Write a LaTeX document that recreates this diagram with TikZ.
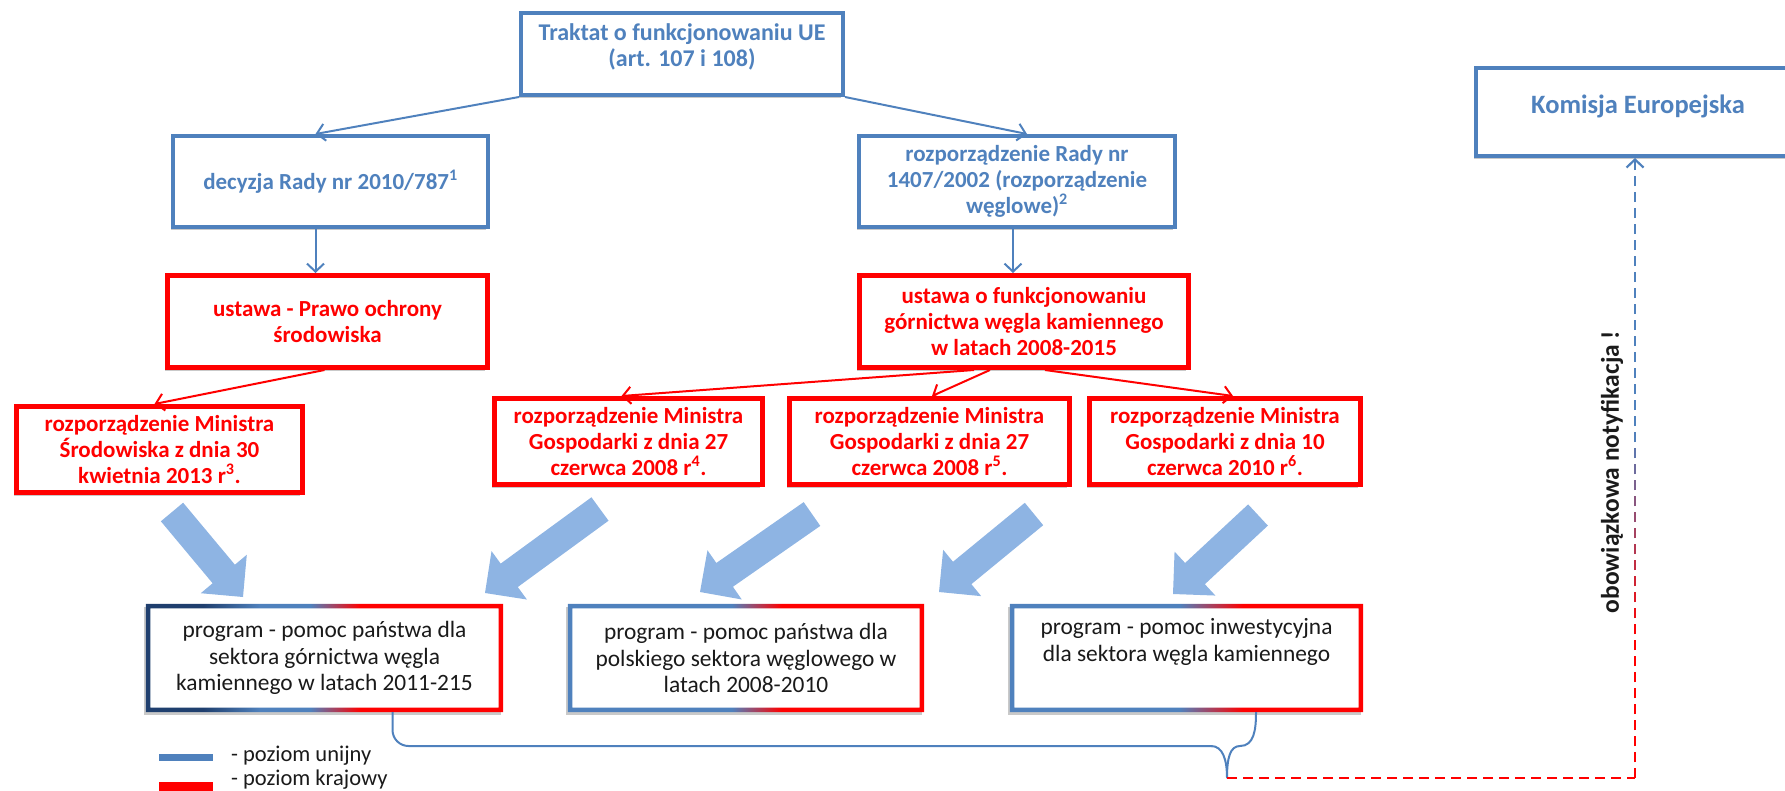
\documentclass[tikz,border=0pt]{standalone}
\usepackage{fontspec}
\setmainfont{Carlito}
\usetikzlibrary{arrows.meta,shadows,calc}

\definecolor{ublue}{HTML}{4F81BD}
\definecolor{nred}{HTML}{FF0000}
\definecolor{navyb}{HTML}{1F3F6E}
\definecolor{fatblue}{HTML}{8EB4E3}
\definecolor{txt}{HTML}{1A1A1A}

\pgfdeclarehorizontalshading{progA}{100bp}{color(0bp)=(navyb); color(25bp)=(navyb); color(33bp)=(navyb); color(41bp)=(ublue); color(48bp)=(ublue); color(55bp)=(nred); color(100bp)=(nred)}
\pgfdeclarehorizontalshading{progB}{100bp}{color(0bp)=(ublue); color(48bp)=(ublue); color(55bp)=(nred); color(100bp)=(nred)}
\pgfdeclarehorizontalshading{progC}{100bp}{color(0bp)=(ublue); color(49bp)=(ublue); color(58bp)=(nred); color(100bp)=(nred)}

\newcommand\fatarr[2]{%
  \coordinate (fab) at ($(#2)!30pt!(#1)$);
  \fill[fatblue] ($(#1)!14.5pt!90:(#2)$) -- ($(fab)!14.5pt!-90:(#1)$) -- ($(fab)!30pt!-90:(#1)$) -- (#2)
     -- ($(fab)!30pt!90:(#1)$) -- ($(fab)!14.5pt!90:(#1)$) -- ($(#1)!14.5pt!-90:(#2)$) -- cycle;}

\tikzset{
  boxbase/.style={rectangle, inner sep=0pt, align=center, fill=white,
    drop shadow={shadow xshift=-2.5pt, shadow yshift=-3pt, opacity=0.3, fill=black!70}},
  bfont/.style={font=\bfseries\fontsize{23}{26}\selectfont},
  rfont/.style={font=\fontsize{23.4}{26.5}\selectfont},
  bluebox/.style={boxbase, draw=ublue, line width=4pt, text=ublue, bfont},
  redbox/.style={boxbase, draw=nred, line width=5pt, text=nred, bfont},
  progbox/.style={boxbase, text=txt, rfont},
  bluetext/.style={inner sep=0pt, align=center, text=ublue, bfont},
  progtext/.style={inner sep=0pt, align=center, text=txt, rfont},
  bconn/.style={draw=ublue, line width=2pt, -{Straight Barb[length=8pt,width=17pt]}},
  rconn/.style={draw=nred, line width=2pt, -{Straight Barb[length=8pt,width=17pt]}},
  braceline/.style={draw=ublue, line width=2pt},
  notif/.style={line width=2.2pt, dash pattern=on 10pt off 6pt},
}

\begin{document}
\begin{tikzpicture}[x=1pt,y=-1pt]
\useasboundingbox (0,0) rectangle (1785,790);

% fat arrows (drawn below the boxes)
\coordinate (fa1s) at (172,512);  \coordinate (fa1e) at (243,597);
\coordinate (fa2s) at (600,509);  \coordinate (fa2e) at (485,593);
\coordinate (fa3s) at (812,514);  \coordinate (fa3e) at (700,592);
\coordinate (fa4s) at (1034,514); \coordinate (fa4e) at (939,592);
\coordinate (fa5s) at (1258,515); \coordinate (fa5e) at (1173,594);
\fatarr{fa1s}{fa1e}
\fatarr{fa2s}{fa2e}
\fatarr{fa3s}{fa3e}
\fatarr{fa4s}{fa4e}
\fatarr{fa5s}{fa5e}

% EU level
\node[bluebox, minimum width=322, minimum height=82] (trak) at (682,54) {};
\node[bluetext, font=\bfseries\fontsize{24}{26}\selectfont] (trakT) at (682,47) {Traktat o funkcjonowaniu UE\\(art. 107 i 108)};
\node[bluebox, minimum width=318, minimum height=88] (kom) at (1635,112) {};
\node[bluetext, font=\bfseries\fontsize{26.5}{28}\selectfont] (komT) at (1638,106) {Komisja Europejska};
\node[bluebox, minimum width=315, minimum height=91] (dec) at (330.5,181.5) {decyzja Rady nr 2010/787\textsuperscript{1}};
\node[bluebox, minimum width=316, minimum height=91] (rr) at (1017,181.5) {rozporządzenie Rady nr\\1407/2002 (rozporządzenie\\węglowe)\textsuperscript{2}};

% national level
\node[redbox, minimum width=320, minimum height=92] (pos) at (327.5,321.5) {ustawa - Prawo ochrony\\środowiska};
\node[redbox, minimum width=329, minimum height=92] (uf) at (1024,321.5) {ustawa o funkcjonowaniu\\górnictwa węgla kamiennego\\w latach 2008-2015};
\node[redbox, minimum width=286, minimum height=86] (sr) at (159.5,449.5) {rozporządzenie Ministra\\Środowiska z dnia 30\\kwietnia 2013 r\textsuperscript{3}.};
\node[redbox, minimum width=268, minimum height=86] (g1) at (628.5,441.5) {rozporządzenie Ministra\\Gospodarki z dnia 27\\czerwca 2008 r\textsuperscript{4}.};
\node[redbox, minimum width=280, minimum height=86] (g2) at (929.5,441.5) {rozporządzenie Ministra\\Gospodarki z dnia 27\\czerwca 2008 r\textsuperscript{5}.};
\node[redbox, minimum width=271, minimum height=86] (g3) at (1225,441.5) {rozporządzenie Ministra\\Gospodarki z dnia 10\\czerwca 2010 r\textsuperscript{6}.};

% programmes
\node[progbox, minimum width=357, minimum height=108] (p1) at (324.5,658) {program - pomoc państwa dla\\sektora górnictwa węgla\\kamiennego w latach 2011-215};
\node[progbox, minimum width=356, minimum height=108] (p2) at (746,658) {program - pomoc państwa dla\\polskiego sektora węglowego w\\latach 2008-2010};
\node[progbox, minimum width=353, minimum height=108] (p3) at (1186.5,658) {};
\node[progtext] (p3T) at (1186.5,642) {program - pomoc inwestycyjna\\dla sektora węgla kamiennego};
\shade[shading=progA, even odd rule] (p1.north west) rectangle (p1.south east)
  ($(p1.north west)+(4.5,4.5)$) rectangle ($(p1.south east)+(-4.5,-4.5)$);
\shade[shading=progB, even odd rule] (p2.north west) rectangle (p2.south east)
  ($(p2.north west)+(4.5,4.5)$) rectangle ($(p2.south east)+(-4.5,-4.5)$);
\shade[shading=progC, even odd rule] (p3.north west) rectangle (p3.south east)
  ($(p3.north west)+(4.5,4.5)$) rectangle ($(p3.south east)+(-4.5,-4.5)$);

% thin connectors
\draw[bconn] (trak.south west) -- ($(dec.north)+(-15,0)$);
\draw[bconn] (trak.south east) -- ($(rr.north)+(10,0)$);
\draw[bconn] ($(dec.south)+(-15,0)$) -- ($(pos.north)+(-12,0)$);
\draw[bconn] ($(rr.south)+(-4,0)$) -- ($(uf.north)+(-11,0)$);
\draw[rconn] ($(pos.south)+(-3,0)$) -- ($(sr.north)+(-5,0)$);
\draw[rconn] ($(uf.south)+(-50,0)$) -- ($(g1.north)+(-7,0)$);
\draw[rconn] ($(uf.south)+(-34,0)$) -- ($(g2.north)+(2.5,0)$);
\draw[rconn] ($(uf.south)+(21,0)$) -- ($(g3.north)+(8,0)$);

% brace under the programmes
\coordinate (bt) at (1227,778);
\draw[braceline, rounded corners=16pt] ($(p1.south)+(68,0)$) |- (1212,746);
\draw[braceline] (1211,746) .. controls (1223,746) and (1227,760) .. (bt);
\draw[braceline] (bt) .. controls (1227,758) and (1230,746) .. (1240,746)
   .. controls (1254,746) and (1256,730) .. ($(p3.south)+(69.5,0)$);

% notification connector
\coordinate (nc) at (1635,778);
\draw[notif, nred] (bt) -- (nc);
\draw[notif, ublue, -{Straight Barb[length=8pt,width=17pt]}] (nc) -- (kom.south);
\foreach \k in {0,...,21} {
  \pgfmathsetmacro{\ya}{778-16*\k}
  \pgfmathsetmacro{\yb}{\ya-10}
  \pgfmathsetmacro{\mixp}{max(0,min(100,(\ya-440)/2))}
  \draw[line width=2.4pt, color=nred!\mixp!ublue] (1635,\ya) -- (1635,\yb);
}
\node[rotate=90, font=\bfseries\fontsize{25.5}{28}\selectfont, text=txt, inner sep=0pt] (obw) at (1612,472) {obowiązkowa notyfikacja !};

% legend
\node[fill=ublue, minimum width=54, minimum height=7, inner sep=0pt] (legb) at (186,757) {};
\node[fill=nred, minimum width=54, minimum height=9, inner sep=0pt] (legr) at (186,786) {};
\node[anchor=west, inner sep=0pt, font=\fontsize{22.5}{26}\selectfont, text=txt] (legbT) at (231,756) {- poziom unijny};
\node[anchor=west, inner sep=0pt, font=\fontsize{22.5}{26}\selectfont, text=txt] (legrT) at (231,780) {- poziom krajowy};
\end{tikzpicture}
\end{document}
